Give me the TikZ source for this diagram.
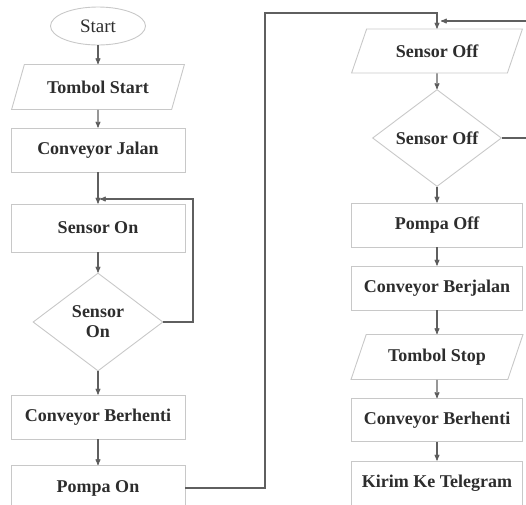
\documentclass[tikz,border=0pt]{standalone}
\usepackage{fontspec}
\setmainfont{Liberation Serif}
\usepackage{tikz}
\usetikzlibrary{arrows,shapes,calc}

\definecolor{boxgray}{RGB}{200,200,200}
\definecolor{linegray}{RGB}{95,95,95}
\definecolor{txtgray}{RGB}{45,45,45}

\begin{document}
\begin{tikzpicture}[x=1pt,y=-1pt,>=stealth']
      \tikzstyle{every node}=[text=txtgray, font=\bfseries\fontsize{18}{20}\selectfont]
      \tikzstyle{proc}=[rectangle, draw=boxgray, line width=0.9pt, minimum height=44]
      \tikzstyle{io}=[trapezium, trapezium left angle=64, trapezium right angle=116,
        trapezium stretches=true, draw=boxgray, line width=0.9pt, minimum height=45]
      \tikzstyle{decision}=[diamond, aspect=1.33, inner sep=0pt, align=center,
        draw=boxgray, line width=0.9pt, minimum width=130, minimum height=98]
      \tikzstyle{term}=[ellipse, draw=boxgray, line width=0.9pt,
        font=\fontsize{19}{21}\selectfont, minimum width=95, minimum height=38]
      \tikzstyle{flow}=[draw=linegray, line width=1.1pt, ->]
      \useasboundingbox (0,0) rectangle (526,504);
      % left column
      \node[term] at (98,26) (start) {Start};
      \node[io, minimum width=173] at (98,87) (tstart) {Tombol Start};
      \node[proc, minimum width=174] at (98,150) (cjalan) {Conveyor Jalan};
      \node[proc, minimum width=174, minimum height=48] at (98,228) (son) {Sensor On};
      \node[decision] at (98,322) (dson) {Sensor\\On};
      \node[proc, minimum width=174] at (98,417) (cstop) {Conveyor Berhenti};
      \node[proc, minimum width=174, minimum height=45] at (98,488) (pon) {Pompa On};
      % right column
      \node[io, minimum width=171, minimum height=44] at (437,51) (soff) {Sensor Off};
      \node[decision, minimum width=129, minimum height=97] at (437,138) (dsoff) {Sensor Off};
      \node[proc, minimum width=171] at (437,225) (poff) {Pompa Off};
      \node[proc, minimum width=171] at (437,288) (cjalan2) {Conveyor Berjalan};
      \node[io, minimum width=172] at (437,357) (tstop) {Tombol Stop};
      \node[proc, minimum width=171, minimum height=43] at (437,420) (cstop2) {Conveyor Berhenti};
      \node[proc, minimum width=171] at (437,483) (kirim) {Kirim Ke Telegram};
      \coordinate (soninlet) at (100,199);
      \coordinate (soffinlet) at (441,21);
      \path[flow] (start)   edge (tstart)
                  (tstart)  edge (cjalan)
                  (cjalan)  edge (son)
                  (son)     edge (dson)
                  (dson)    edge (cstop)
                  (cstop)   edge (pon)
                  (soff)    edge (dsoff)
                  (dsoff)   edge (poff)
                  (poff)    edge (cjalan2)
                  (cjalan2) edge (tstop)
                  (tstop)   edge (cstop2)
                  (cstop2)  edge (kirim);
      % loops
      \draw[flow] (dson.east) -| (193,199) -- (soninlet);
      \draw[flow] (pon.east) -| (265,13) -| (soff.north);
      \draw[flow] (dsoff.east) -| (532,21) -- (soffinlet);
    \end{tikzpicture}
\end{document}
